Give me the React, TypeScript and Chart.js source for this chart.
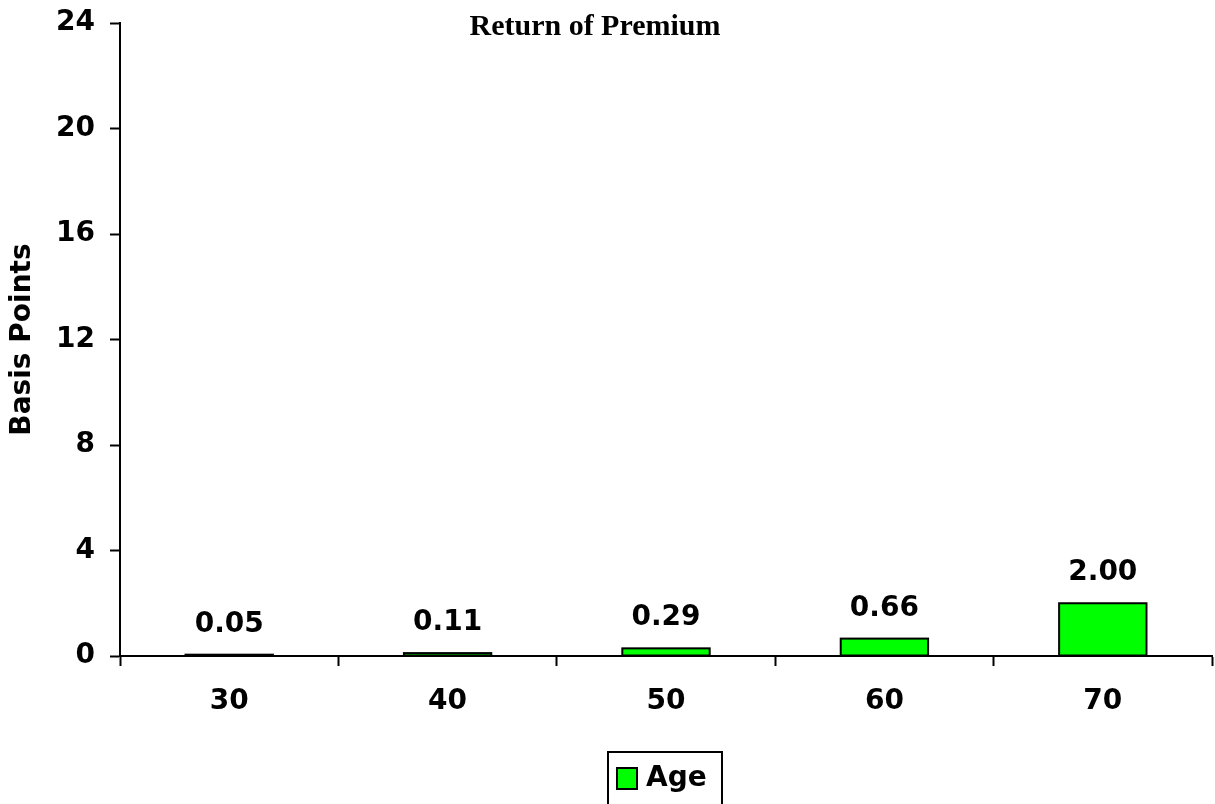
import React, { useEffect, useRef } from "react";
import { Chart, registerables } from "chart.js";

Chart.register(...registerables);

// Chart content
const chartTitle = "Return of Premium";
const yAxisTitle = "Basis Points";
const seriesLabel = "Age";
const ages = ["30", "40", "50", "60", "70"];
const basisPoints = [0.05, 0.11, 0.29, 0.66, 2.0];
const yMin = 0;
const yMax = 24;
const yStep = 4;

const BAR_FILL = "#00FF00";
const INK = "#000000";
const SANS = "'DejaVu Sans', Verdana, sans-serif";
const SERIF = "'Liberation Serif', 'Times New Roman', serif";
const LABEL_SIZE = 28;

// Title drawn over the top of the plot, as in a spreadsheet chart
const titlePlugin = {
  id: "overlayTitle",
  afterDraw(chart: any) {
    const ctx = chart.ctx;
    ctx.save();
    ctx.font = `bold 30px ${SERIF}`;
    ctx.fillStyle = INK;
    ctx.textAlign = "center";
    ctx.textBaseline = "alphabetic";
    ctx.fillText(chartTitle, 595, 35);
    ctx.restore();
  },
};

// Bar outlines (not clamped for very short bars) and value labels
const barDecorPlugin = {
  id: "barDecor",
  afterDatasetsDraw(chart: any) {
    const ctx = chart.ctx;
    ctx.save();
    chart.data.datasets.forEach((ds: any, di: number) => {
      const meta = chart.getDatasetMeta(di);
      meta.data.forEach((bar: any, i: number) => {
        const { x, y, base, width } = bar.getProps(["x", "y", "base", "width"], true);
        ctx.strokeStyle = INK;
        ctx.lineWidth = 2;
        ctx.strokeRect(x - width / 2, y, width, base - y);
        const v = ds.data[i] as number;
        ctx.font = `bold ${LABEL_SIZE}px ${SANS}`;
        ctx.fillStyle = INK;
        ctx.textAlign = "center";
        ctx.textBaseline = "alphabetic";
        ctx.fillText(v.toFixed(2), x, y - 23);
      });
    });
    ctx.restore();
  },
};

// Boxed legend below the axis
const boxedLegendPlugin = {
  id: "boxedLegend",
  afterDraw(chart: any) {
    const ctx = chart.ctx;
    const ds = chart.data.datasets[0];
    ctx.save();
    ctx.font = `bold ${LABEL_SIZE}px ${SANS}`;
    const textW = ctx.measureText(ds.label).width;
    const sw = 20;
    const padX = 9;
    const gap = 9;
    const boxW = Math.round(padX + sw + gap + textW + 15);
    const left = 608;
    const top = 752;
    ctx.strokeStyle = INK;
    ctx.lineWidth = 2;
    ctx.strokeRect(left, top, boxW, 70);
    ctx.fillStyle = ds.backgroundColor;
    ctx.fillRect(left + padX, 768, sw, 21);
    ctx.strokeRect(left + padX, 768, sw, 21);
    ctx.fillStyle = INK;
    ctx.textAlign = "left";
    ctx.textBaseline = "middle";
    ctx.fillText(ds.label, left + padX + sw + gap, 779);
    ctx.restore();
  },
};

export default function App() {
  const canvasRef = useRef<HTMLCanvasElement | null>(null);

  useEffect(() => {
    if (!canvasRef.current) return;
    const chart = new Chart(canvasRef.current, {
      type: "bar",
      data: {
        labels: ages,
        datasets: [
          {
            label: seriesLabel,
            data: basisPoints,
            backgroundColor: BAR_FILL,
            borderWidth: 0,
            barPercentage: 0.4,
            categoryPercentage: 1,
          },
        ],
      },
      options: {
        responsive: false,
        animation: false,
        layout: { padding: { top: 23, right: 3, left: 0, bottom: 0 } },
        plugins: {
          legend: { display: false },
          title: { display: false },
          tooltip: { enabled: false },
        },
        scales: {
          x: {
            offset: true,
            grid: {
              offset: true,
              drawOnChartArea: false,
              drawTicks: true,
              tickLength: 10,
              tickWidth: 2,
              tickColor: INK,
            },
            border: { display: true, color: INK, width: 2 },
            ticks: {
              color: INK,
              padding: 19,
              font: { family: SANS, size: LABEL_SIZE, weight: "bold" },
              maxRotation: 0,
            },
            afterFit(scale: any) {
              scale.height = 148;
            },
          },
          y: {
            min: yMin,
            max: yMax,
            grid: {
              drawOnChartArea: false,
              drawTicks: true,
              tickLength: 10,
              tickWidth: 2,
              tickColor: INK,
            },
            border: { display: true, color: INK, width: 2 },
            ticks: {
              stepSize: yStep,
              color: INK,
              padding: 15,
              font: { family: SANS, size: LABEL_SIZE, weight: "bold" },
            },
            title: {
              display: true,
              text: yAxisTitle,
              color: INK,
              padding: { top: 6, bottom: 0 },
              font: { family: SANS, size: LABEL_SIZE, weight: "bold" },
            },
            afterFit(scale: any) {
              scale.width = 120;
              scale.paddingTop = 0;
              scale.paddingBottom = 0;
            },
          },
        },
      },
      plugins: [barDecorPlugin, titlePlugin, boxedLegendPlugin],
    });
    return () => chart.destroy();
  }, []);

  return (
    <div style={{ position: "absolute", left: 0, top: 0, width: 1215, height: 804, background: "#fff" }}>
      <canvas ref={canvasRef} width={1215} height={804} />
    </div>
  );
}
